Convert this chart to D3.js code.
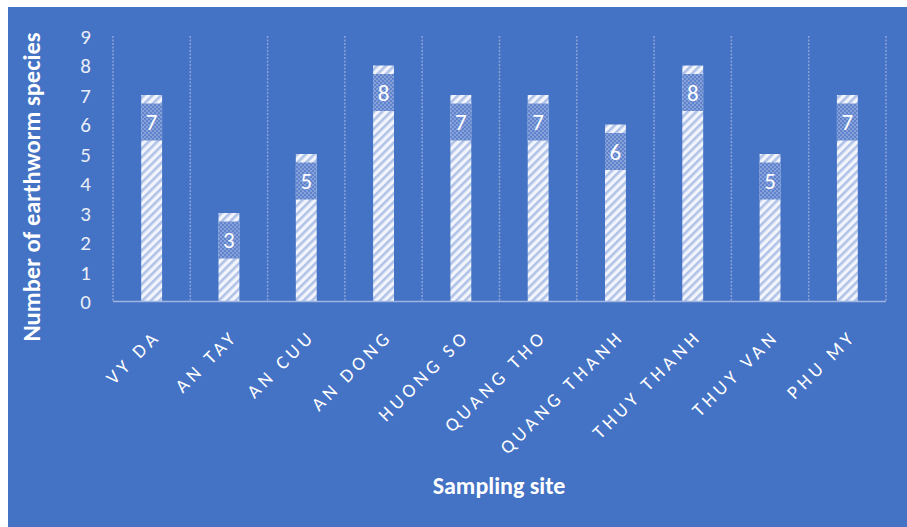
<!DOCTYPE html>
<html><head><meta charset="utf-8">
<script src="https://cdn.jsdelivr.net/npm/d3@7"></script>
<style>
html,body{margin:0;padding:0;background:#fff;}
svg{display:block;}
</style></head><body>
<svg id="c" width="907" height="527"></svg>
<script>
const sites = ["VY DA","AN TAY","AN CUU","AN DONG","HUONG SO","QUANG THO","QUANG THANH","THUY THANH","THUY VAN","PHU MY"];
const speciesCount = [7,3,5,8,7,7,6,8,5,7];
const yTicks = [0,1,2,3,4,5,6,7,8,9];
const yTitle = "Number of earthworm species";
const xTitle = "Sampling site";

const W=907,H=527;
const m={left:113,right:21,top:36,bottom:225.5};
const svg=d3.select("#c");
const defs=svg.append("defs");
// diagonal hatch
const hp=defs.append("pattern").attr("id","hatch").attr("patternUnits","userSpaceOnUse")
  .attr("width",6).attr("height",6).attr("patternTransform","rotate(45)");
hp.append("rect").attr("width",6).attr("height",6).attr("fill","#f2f5fb");
hp.append("rect").attr("x",0).attr("width",2.6).attr("height",6).attr("fill","#b0c2e8");
// dotted pattern for label box
const dp=defs.append("pattern").attr("id","dots").attr("patternUnits","userSpaceOnUse")
  .attr("width",4).attr("height",4);
dp.append("rect").attr("width",4).attr("height",4).attr("fill","#5f84cd");
dp.append("rect").attr("width",2).attr("height",2).attr("fill","#86a1da");
dp.append("rect").attr("x",2).attr("y",2).attr("width",2).attr("height",2).attr("fill","#86a1da");

svg.append("rect").attr("x",8).attr("y",7).attr("width",W-8).attr("height",H-7).attr("fill","#4472c4");

const x=d3.scaleBand().domain(sites).range([m.left,W-m.right]).paddingInner(0.73).paddingOuter(0.365);
const xb=d3.scaleBand().domain(sites).range([m.left,W-m.right]);
const y=d3.scaleLinear().domain([0,9]).range([H-m.bottom,m.top]);

const font="Carlito, Calibri, Lato, 'Open Sans', sans-serif";

// vertical category gridlines
const gx=d3.range(sites.length+1).map(i=>m.left+i*xb.step());
svg.append("g").selectAll("line").data(gx).join("line")
  .attr("x1",d=>d).attr("x2",d=>d).attr("y1",y(9)).attr("y2",y(0))
  .attr("stroke","#8ba3d8").attr("stroke-width",1.5).attr("stroke-dasharray","2,1.5");

// bars
svg.append("g").selectAll("rect").data(speciesCount).join("rect")
  .attr("x",(d,i)=>x(sites[i])).attr("width",x.bandwidth())
  .attr("y",d=>y(d)).attr("height",d=>y(0)-y(d)).attr("fill","url(#hatch)");

// label boxes
const lg=svg.append("g");
lg.selectAll("rect").data(speciesCount).join("rect")
  .attr("x",(d,i)=>x(sites[i])).attr("width",x.bandwidth())
  .attr("y",d=>y(d)+8.5).attr("height",37).attr("fill","url(#dots)");
lg.selectAll("text").data(speciesCount).join("text")
  .attr("x",(d,i)=>x(sites[i])+x.bandwidth()/2).attr("y",d=>y(d)+35)
  .attr("text-anchor","middle").attr("fill","#ffffff")
  .style("font-family",font).style("font-size","23px").text(d=>d);

// x axis line
svg.append("line").attr("x1",m.left).attr("x2",W-m.right).attr("y1",y(0)).attr("y2",y(0))
  .attr("stroke","#9fb4e0").attr("stroke-width",1.3);

// y axis
const ya=d3.axisLeft(y).tickValues(yTicks).tickSize(0).tickPadding(0);
const yg=svg.append("g").attr("transform",`translate(91,0)`).call(ya);
yg.select(".domain").remove();
yg.selectAll("text").attr("fill","#e9edf7").style("font-family",font).style("font-size","21px").attr("dy","0.35em");

// x axis labels
const xa=d3.axisBottom(xb).tickSize(0).tickPadding(0);
const xg=svg.append("g").attr("transform",`translate(0,${y(0)})`).call(xa);
xg.select(".domain").remove();
xg.selectAll("text").attr("fill","#ffffff").style("font-family",font).style("font-size","19px")
  .style("letter-spacing","4.2px").attr("text-anchor","end")
  .attr("transform","translate(10,36) rotate(-45)").attr("y",0).attr("dy","0");

// titles
svg.append("text").attr("transform",`translate(40,${187}) rotate(-90)`).attr("text-anchor","middle")
  .attr("fill","#ffffff").style("font-family",font).style("font-weight","bold").style("font-size","24.5px").text(yTitle);
svg.append("text").attr("x",499).attr("y",494).attr("text-anchor","middle")
  .attr("fill","#ffffff").style("font-family",font).style("font-weight","bold").style("font-size","24px").text(xTitle);
</script></body></html>
